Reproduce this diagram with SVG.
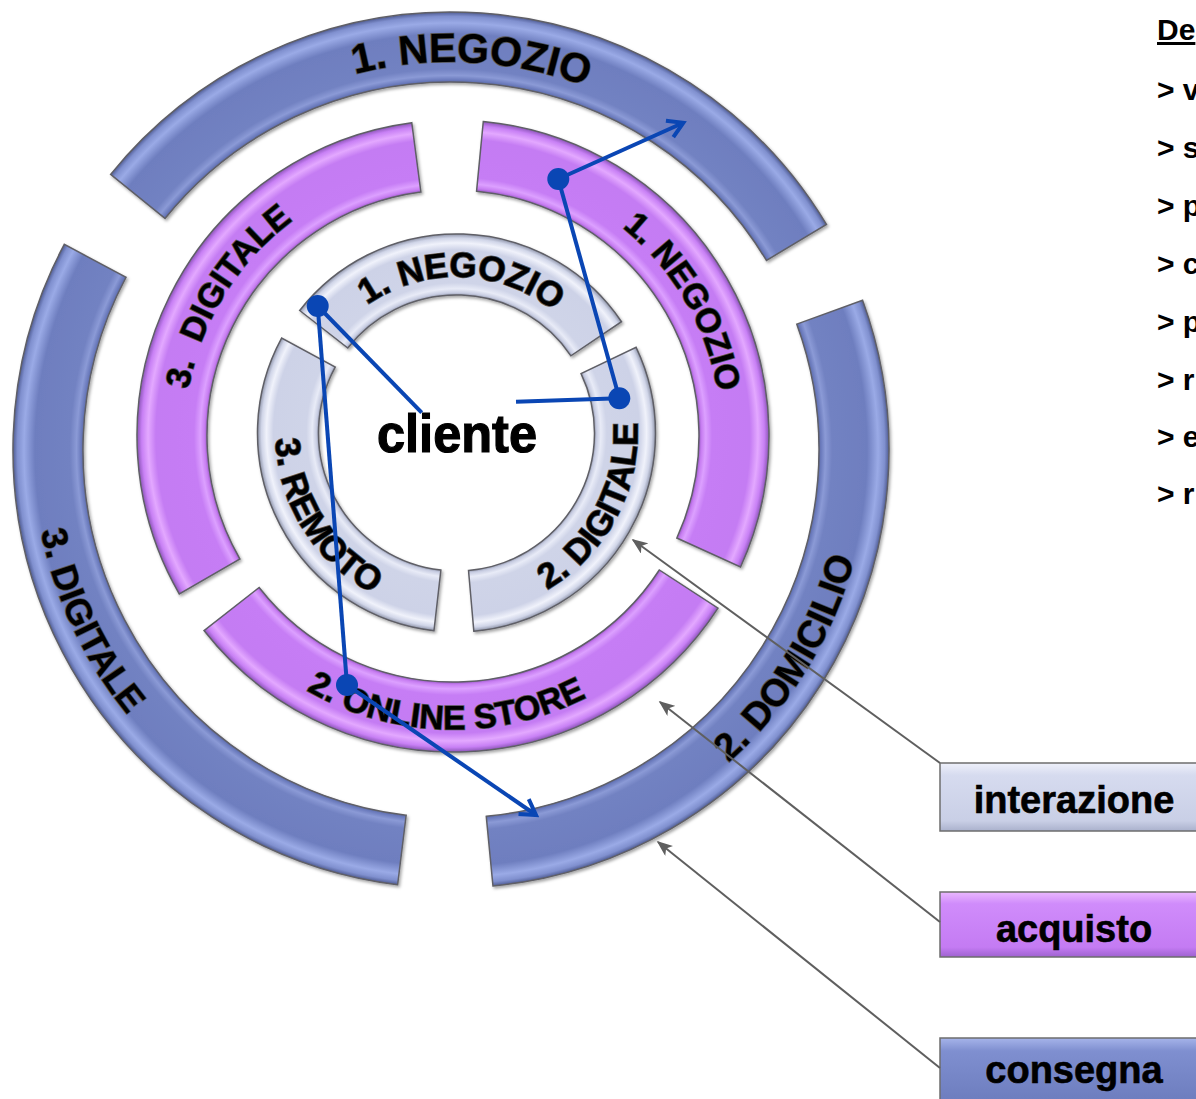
<svg xmlns="http://www.w3.org/2000/svg" width="1196" height="1099" viewBox="0 0 1196 1099">
<style>
.seg{stroke:#5f5f66;stroke-width:1.5;filter:url(#sh)}
.rt{font-family:"Liberation Sans",Arial,sans-serif;font-weight:700;fill:#000;stroke:#555;stroke-width:1.6;paint-order:stroke}
.b{font-size:41px}.b2{font-size:38px}.b3{font-size:36px}.p{font-size:34px}.g{font-size:35px}
.blue{stroke:#0a46b4;stroke-width:4;fill:none}
.dot{fill:#0a46b4}
.gray{stroke:#5f5f5f;stroke-width:2;fill:none;marker-end:url(#ga)}
.box{stroke:#6d6d6d;stroke-width:1.5}
.lg{font-family:"Liberation Sans",Arial,sans-serif;font-weight:700;font-size:38px;text-anchor:middle;fill:#000;stroke:#000;stroke-width:0.6}
.side{font-family:"Liberation Sans",Arial,sans-serif;font-weight:700;font-size:30px;fill:#000}
</style>
<defs>
<filter id="sh" x="-10%" y="-10%" width="120%" height="120%">
<feDropShadow dx="1.5" dy="2" stdDeviation="1.5" flood-color="#000" flood-opacity="0.35"/>
</filter>
<radialGradient id="gB" gradientUnits="userSpaceOnUse" cx="451" cy="450" r="438">
<stop offset="0.835" stop-color="#4d5a92"/>
<stop offset="0.845" stop-color="#6b7bbd"/>
<stop offset="0.855" stop-color="#8b9ad6"/>
<stop offset="0.87" stop-color="#7282c2"/>
<stop offset="0.95" stop-color="#6e7ebf"/>
<stop offset="0.975" stop-color="#9aaae6"/>
<stop offset="0.99" stop-color="#8090cf"/>
<stop offset="1" stop-color="#4f5c94"/>
</radialGradient>
<radialGradient id="gP" gradientUnits="userSpaceOnUse" cx="453" cy="436" r="316">
<stop offset="0.775" stop-color="#8a4fb8"/>
<stop offset="0.787" stop-color="#c87ef2"/>
<stop offset="0.80" stop-color="#dca0ff"/>
<stop offset="0.82" stop-color="#c67df5"/>
<stop offset="0.94" stop-color="#c47bf3"/>
<stop offset="0.965" stop-color="#e3a8ff"/>
<stop offset="0.985" stop-color="#c880f5"/>
<stop offset="1" stop-color="#8c55b8"/>
</radialGradient>
<radialGradient id="gG" gradientUnits="userSpaceOnUse" cx="456.5" cy="433" r="199">
<stop offset="0.69" stop-color="#8c92a8"/>
<stop offset="0.705" stop-color="#c8cde2"/>
<stop offset="0.725" stop-color="#e8ebf7"/>
<stop offset="0.755" stop-color="#cfd4e8"/>
<stop offset="0.92" stop-color="#cdd2e7"/>
<stop offset="0.955" stop-color="#f0f2fb"/>
<stop offset="0.98" stop-color="#d0d5e8"/>
<stop offset="1" stop-color="#8f95aa"/>
</radialGradient>
<linearGradient id="lG" x1="0" y1="0" x2="0" y2="1">
<stop offset="0" stop-color="#eef0fa"/><stop offset="0.18" stop-color="#d6dbef"/><stop offset="0.85" stop-color="#c9cfe6"/><stop offset="1" stop-color="#aab1cc"/>
</linearGradient>
<linearGradient id="lP" x1="0" y1="0" x2="0" y2="1">
<stop offset="0" stop-color="#eab8ff"/><stop offset="0.18" stop-color="#d08cfb"/><stop offset="0.85" stop-color="#c47bf3"/><stop offset="1" stop-color="#9e62cf"/>
</linearGradient>
<linearGradient id="lB" x1="0" y1="0" x2="0" y2="1">
<stop offset="0" stop-color="#a6b4ea"/><stop offset="0.18" stop-color="#7f8fd0"/><stop offset="0.85" stop-color="#6e7ebf"/><stop offset="1" stop-color="#56649f"/>
</linearGradient>
<marker id="ga" viewBox="0 0 10 8" refX="9" refY="4" markerWidth="8" markerHeight="6.4" orient="auto">
<path d="M0,0 L10,4 L0,8 L2.5,4 Z" fill="#5f5f5f"/>
</marker>
<marker id="ba" viewBox="0 0 24 24" refX="20" refY="12" markerWidth="24" markerHeight="24" markerUnits="userSpaceOnUse" orient="auto">
<path d="M5,3 L20,12 L5,21" fill="none" stroke="#0a46b4" stroke-width="4" stroke-linejoin="miter"/>
</marker>
<path id="t1" d="M191.38,161.66 A388,388 0 0 1 739.34,190.38"/>
<path id="t2" d="M546.81,856.87 A418,418 0 0 0 857.87,354.19"/>
<path id="t3" d="M57.59,308.75 A418,418 0 0 0 309.75,843.41"/>
<path id="t4" d="M521.59,176.41 A268.5,268.5 0 0 1 712.59,504.59"/>
<path id="t5" d="M191.70,497.77 A268.5,268.5 0 0 1 391.23,174.70"/>
<path id="t6" d="M195.17,576.25 A293.5,293.5 0 0 0 703.39,589.13"/>
<path id="t7" d="M311.76,374.81 A156,156 0 0 1 604.78,384.53"/>
<path id="t8" d="M430.22,612.08 A181,181 0 0 0 591.73,312.69"/>
<path id="t9" d="M313.48,322.06 A181,181 0 0 0 494.75,609.91"/>
</defs>
<rect width="1196" height="1099" fill="#fff"/>

<g id="consegna-negozio">
<path class="seg" fill="url(#gB)" d="M110.61,174.36 A438,438 0 0 1 826.44,224.41 L766.44,260.47 A368,368 0 0 0 165.01,218.41 Z"/>
<text class="rt b"><textPath href="#t1" startOffset="50%" text-anchor="middle">1. NEGOZIO</textPath></text>
</g>
<g id="consegna-domicilio">
<path class="seg" fill="url(#gB)" d="M862.58,300.20 A438,438 0 0 1 492.98,885.99 L486.27,816.31 A368,368 0 0 0 796.81,324.14 Z"/>
<text class="rt b2"><textPath href="#t2" startOffset="50%" text-anchor="middle">2. DOMICILIO</textPath></text>
</g>
<g id="consegna-digitale">
<path class="seg" fill="url(#gB)" d="M397.62,884.74 A438,438 0 0 1 64.27,244.37 L126.07,277.23 A368,368 0 0 0 406.15,815.26 Z"/>
<text class="rt b3"><textPath href="#t3" startOffset="50%" text-anchor="middle">3. DIGITALE</textPath></text>
</g>

<g id="acquisto-digitale">
<path class="seg" fill="url(#gP)" d="M179.34,594 A316,316 0 0 1 411.75,122.71 L420.89,192.11 A246,246 0 0 0 239.96,559 Z"/>
<text class="rt p" xml:space="preserve"><textPath href="#t5" startOffset="50%" text-anchor="middle">3.  DIGITALE</textPath></text>
</g>
<g id="acquisto-negozio">
<path class="seg" fill="url(#gP)" d="M483.29,121.45 A316,316 0 0 1 740.55,567.04 L676.85,538.01 A246,246 0 0 0 476.58,191.13 Z"/>
<text class="rt p"><textPath href="#t4" startOffset="50%" text-anchor="middle">1. NEGOZIO</textPath></text>
</g>
<g id="acquisto-online-store">
<path class="seg" fill="url(#gP)" d="M718.02,608.11 A316,316 0 0 1 203.99,630.55 L259.15,587.45 A246,246 0 0 0 659.31,569.98 Z"/>
<text class="rt p"><textPath href="#t6" startOffset="50%" text-anchor="middle">2. ONLINE STORE</textPath></text>
</g>

<g id="interazione-negozio">
<path class="seg" fill="url(#gG)" d="M299.69,310.48 A199,199 0 0 1 621.48,321.72 L570.91,355.83 A138,138 0 0 0 347.75,348.04 Z"/>
<text class="rt g"><textPath href="#t7" startOffset="50%" text-anchor="middle">1. NEGOZIO</textPath></text>
</g>
<g id="interazione-digitale">
<path class="seg" fill="url(#gG)" d="M636.12,347.33 A199,199 0 0 1 473.84,631.24 L468.53,570.47 A138,138 0 0 0 581.06,373.59 Z"/>
<text class="rt g"><textPath href="#t8" startOffset="50%" text-anchor="middle">2. DIGITALE</textPath></text>
</g>
<g id="interazione-remoto">
<path class="seg" fill="url(#gG)" d="M433.97,630.72 A199,199 0 0 1 281.61,338.05 L335.22,367.15 A138,138 0 0 0 440.88,570.11 Z"/>
<text class="rt g"><textPath href="#t9" startOffset="50%" text-anchor="middle">3. REMOTO</textPath></text>
</g>

<g id="cliente">
<text x="457" y="452" text-anchor="middle" textLength="160" lengthAdjust="spacingAndGlyphs" style="font-family:'Liberation Sans',Arial,sans-serif;font-weight:700;font-size:54px;stroke:#000;stroke-width:1.2">cliente</text>
</g>

<g id="legend-interazione">
<rect class="box" x="940" y="763" width="270" height="68" fill="url(#lG)"/>
<text class="lg" x="1074" y="813">interazione</text>
</g>
<g id="legend-acquisto">
<rect class="box" x="940" y="892" width="270" height="65" fill="url(#lP)"/>
<text class="lg" x="1074" y="942">acquisto</text>
</g>
<g id="legend-consegna">
<rect class="box" x="940" y="1038" width="270" height="72" fill="url(#lB)"/>
<text class="lg" x="1074" y="1083">consegna</text>
</g>

<g id="side-text" class="side">
<text x="1157" y="40" text-decoration="underline">De</text>
<text x="1157" y="100">&gt; v</text>
<text x="1157" y="158">&gt; s</text>
<text x="1157" y="216">&gt; p</text>
<text x="1157" y="274">&gt; c</text>
<text x="1157" y="332">&gt; p</text>
<text x="1157" y="390">&gt; r</text>
<text x="1157" y="447">&gt; e</text>
<text x="1157" y="504">&gt; r</text>
</g>

<g id="connectors">
<line class="gray" x1="940" y1="763" x2="633" y2="540"/>
<line class="gray" x1="940" y1="922" x2="660" y2="702"/>
<line class="gray" x1="940" y1="1068" x2="658" y2="842"/>
<line class="blue" x1="421.7" y1="412.7" x2="317.7" y2="306"/>
<line class="blue" x1="516" y1="401.7" x2="619.3" y2="398.3"/>
<line class="blue" x1="619.3" y1="398.3" x2="558.3" y2="179"/>
<line class="blue" x1="558.3" y1="179" x2="683.3" y2="122.8" marker-end="url(#ba)"/>
<line class="blue" x1="317.7" y1="306" x2="347" y2="685"/>
<line class="blue" x1="347" y1="685" x2="536" y2="815" marker-end="url(#ba)"/>
<circle class="dot" cx="317.7" cy="306" r="11"/>
<circle class="dot" cx="619.3" cy="398.3" r="11"/>
<circle class="dot" cx="558.3" cy="179" r="11"/>
<circle class="dot" cx="347" cy="685" r="11"/>
</g>
</svg>
